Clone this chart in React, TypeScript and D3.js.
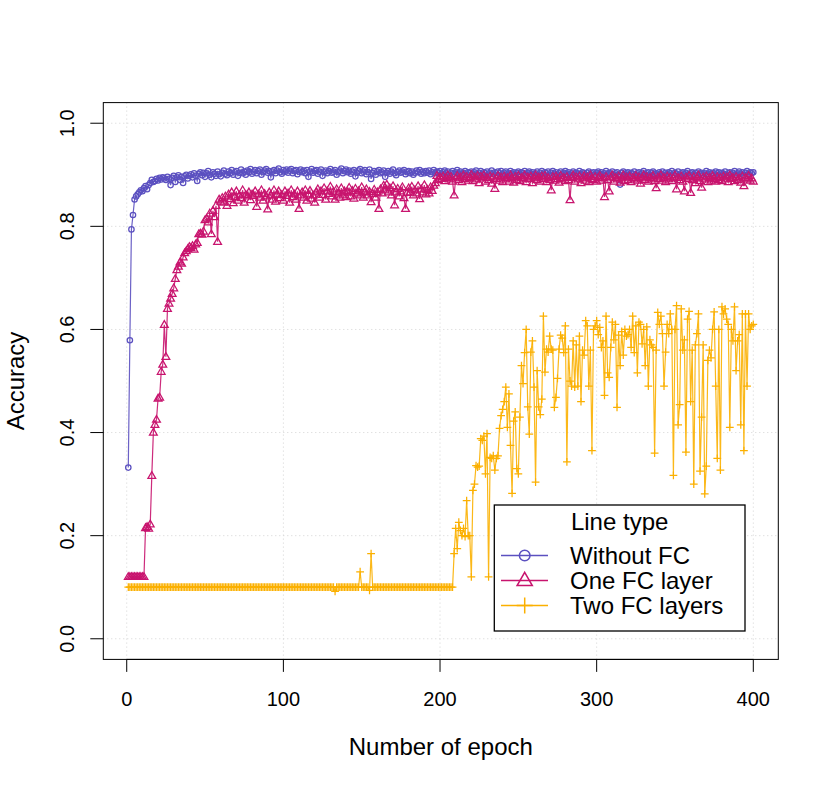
import * as d3 from 'd3';

// accuracy per epoch, in thousandths
const withoutFC = [
  332, 579, 794, 822, 852, 858, 862, 866, 870, 868, 874, 878, 872, 880, 884, 890, 886, 888, 892, 889,
  894, 891, 895, 893, 890, 896, 892, 880, 894, 898, 886, 895, 899, 890, 896, 884, 897, 900, 893, 898,
  901, 895, 903, 898, 888, 902, 905, 899, 904, 896, 903, 907, 900, 895, 905, 902, 898, 906, 901, 897,
  904, 908, 902, 899, 906, 903, 909, 900, 905, 907, 898, 904, 910, 903, 906, 900, 908, 905, 911, 902,
  906, 909, 903, 907, 910, 900, 905, 908, 911, 904, 907, 895, 906, 909, 903, 908, 912, 905, 902, 909,
  906, 910, 904, 908, 911, 903, 907, 909, 901, 906, 910, 905, 908, 903, 909, 896, 906, 911, 904, 907,
  909, 902, 906, 910, 898, 905, 908, 903, 907, 911, 904, 906, 909, 900, 905, 908, 912, 903, 907, 910,
  905, 908, 902, 906, 909, 897, 904, 908, 911, 903, 906, 909, 901, 905, 910, 892, 904, 907, 900, 906,
  909, 903, 905, 908, 896, 904, 907, 902, 906, 910, 903, 899, 905, 908, 904, 906, 909, 901, 905, 907,
  903, 906, 900, 904, 908, 905, 909, 902, 906, 903, 907, 904, 908, 901, 905, 909, 903, 906, 904, 907,
  902, 905, 908, 903, 906, 900, 904, 907, 902, 905, 909, 903, 906, 901, 904, 907, 900, 905, 903, 906,
  902, 905, 908, 899, 904, 907, 901, 905, 903, 906, 900, 904, 908, 902, 905, 899, 906, 903, 907, 901,
  904, 906, 900, 903, 907, 902, 905, 899, 904, 906, 901, 905, 903, 907, 900, 904, 906, 902, 905, 898,
  903, 906, 900, 904, 907, 901, 905, 903, 906, 899, 904, 907, 902, 905, 900, 903, 906, 901, 904, 907,
  902, 905, 899, 903, 906, 900, 904, 902, 907, 901, 905, 903, 898, 904, 906, 901, 903, 905, 900, 904,
  906, 902, 905, 900, 903, 907, 901, 904, 902, 906, 899, 903, 905, 900, 881, 904, 906, 901, 903, 905,
  900, 904, 902, 906, 899, 903, 905, 901, 904, 907, 900, 903, 905, 899, 904, 906, 901, 903, 900, 905,
  902, 906, 899, 904, 901, 905, 903, 907, 900, 904, 902, 906, 899, 903, 905, 901, 904, 907, 900, 903,
  905, 901, 904, 899, 906, 902, 904, 900, 903, 907, 901, 905, 902, 904, 899, 906, 903, 905, 900, 904,
  902, 906, 899, 903, 905, 901, 904, 907, 900, 903, 906, 902, 905, 899, 904, 907, 901, 905, 903, 905,
];

const oneFC = [
  120, 120, 120, 120, 120, 120, 120, 120, 120, 120, 120, 215, 217, 214, 222, 316, 400, 415, 425, 466,
  468, 518, 532, 609, 547, 640, 650, 660, 669, 680, 698, 715, 722, 730, 728, 740, 748, 752, 756, 760,
  758, 762, 755, 765, 768, 785, 786, 784, 790, 812, 815, 808, 825, 785, 830, 818, 840, 770, 852, 848,
  855, 846, 858, 840, 862, 853, 866, 845, 857, 868, 850, 860, 855, 870, 846, 861, 858, 866, 851, 862,
  859, 868, 838, 862, 856, 870, 850, 863, 858, 833, 866, 860, 852, 870, 848, 862, 868, 855, 861, 850,
  868, 859, 864, 846, 870, 857, 862, 852, 868, 834, 860, 866, 856, 870, 850, 862, 869, 854, 860, 846,
  866, 872, 856, 868, 861, 874, 852, 868, 863, 877, 858, 867, 852, 872, 864, 856, 874, 860, 868, 857,
  866, 875, 858, 869, 854, 873, 864, 868, 860, 876, 856, 866, 872, 860, 867, 847, 863, 871, 856, 866,
  834, 872, 864, 879, 870, 881, 866, 874, 860, 878, 841, 866, 873, 858, 868, 876, 855, 834, 865, 874,
  866, 877, 860, 870, 864, 878, 853, 872, 866, 880, 862, 871, 864, 876, 869, 879, 884, 898, 890, 895,
  892, 897, 888, 894, 899, 891, 896, 887, 860, 893, 898, 890, 895, 886, 899, 892, 896, 889, 894, 900,
  888, 895, 891, 898, 884, 896, 893, 899, 887, 894, 890, 897, 883, 895, 873, 892, 898, 889, 895, 886,
  897, 891, 894, 887, 899, 893, 885, 896, 890, 898, 888, 894, 891, 899, 886, 895, 892, 897, 884, 893,
  899, 890, 895, 887, 897, 892, 898, 886, 894, 890, 870, 896, 889, 897, 892, 885, 898, 891, 894, 888,
  896, 890, 851, 894, 899, 887, 895, 891, 897, 884, 893, 898, 889, 895, 886, 899, 892, 890, 896, 887,
  894, 898, 889, 893, 857, 896, 890, 868, 895, 899, 887, 894, 891, 897, 885, 893, 899, 888, 895, 890,
  897, 886, 894, 891, 898, 889, 895, 883, 893, 899, 890, 896, 887, 894, 891, 898, 888, 874, 895, 892,
  899, 889, 894, 886, 897, 891, 895, 888, 893, 899, 872, 894, 890, 897, 887, 868, 895, 892, 898, 865,
  890, 896, 884, 893, 899, 888, 875, 895, 891, 897, 886, 894, 889, 898, 892, 887, 896, 890, 894, 888,
  897, 891, 895, 886, 899, 892, 894, 888, 896, 890, 893, 885, 897, 878, 894, 891, 898, 889, 893, 887,
];

const twoFC = [
  100, 100, 100, 100, 100, 100, 100, 100, 100, 100, 100, 100, 100, 100, 100, 100, 100, 100, 100, 100,
  100, 100, 100, 100, 100, 100, 100, 100, 100, 100, 100, 100, 100, 100, 100, 100, 100, 100, 100, 100,
  100, 100, 100, 100, 100, 100, 100, 100, 100, 100, 100, 100, 100, 100, 100, 100, 100, 100, 100, 100,
  100, 100, 100, 100, 100, 100, 100, 100, 100, 100, 100, 100, 100, 100, 100, 100, 100, 100, 100, 100,
  100, 100, 100, 100, 100, 100, 100, 100, 100, 100, 100, 100, 100, 100, 100, 100, 100, 100, 100, 100,
  100, 100, 100, 100, 100, 100, 100, 100, 100, 100, 100, 100, 100, 100, 100, 100, 100, 100, 100, 100,
  100, 100, 100, 100, 100, 100, 100, 100, 100, 100, 100, 100, 92, 100, 100, 100, 100, 100, 100, 100,
  100, 100, 100, 100, 100, 100, 100, 100, 130, 100, 100, 100, 100, 100, 94, 165, 100, 100, 100, 100,
  100, 100, 100, 100, 100, 100, 100, 100, 100, 100, 100, 100, 100, 100, 100, 100, 100, 100, 100, 100,
  100, 100, 100, 100, 100, 100, 100, 100, 100, 100, 100, 100, 100, 100, 100, 100, 100, 100, 100, 100,
  100, 100, 100, 100, 100, 100, 100, 100, 165, 214, 175, 226, 210, 200, 214, 198, 268, 200, 200, 120,
  288, 300, 336, 333, 335, 388, 385, 393, 320, 398, 120, 352, 350, 355, 327, 350, 355, 408, 433, 445,
  460, 488, 410, 475, 375, 282, 422, 440, 330, 320, 430, 530, 495, 555, 600, 450, 397, 556, 578, 488,
  304, 520, 450, 435, 465, 626, 517, 562, 556, 587, 562, 560, 449, 468, 505, 562, 589, 583, 555, 607,
  343, 562, 500, 490, 578, 488, 570, 490, 587, 460, 560, 550, 617, 607, 490, 560, 365, 600, 607, 617,
  590, 604, 565, 578, 472, 626, 516, 507, 565, 614, 580, 610, 449, 589, 530, 596, 550, 600, 587, 590,
  600, 565, 626, 555, 607, 516, 614, 610, 572, 600, 530, 605, 490, 580, 570, 565, 360, 560, 633, 610,
  626, 592, 490, 556, 610, 592, 630, 600, 317, 600, 646, 415, 454, 640, 560, 580, 362, 620, 635, 460,
  560, 300, 570, 592, 630, 325, 430, 570, 281, 335, 540, 560, 545, 600, 634, 490, 350, 600, 327, 644,
  630, 640, 620, 610, 410, 600, 578, 644, 520, 578, 590, 415, 630, 365, 630, 490, 630, 600, 607, 610,
];

const seriesNames = ['Without FC', 'One FC layer', 'Two FC layers'];
const seriesColors = ['#5b50c0', '#c8146e', '#fbb000'];
const xTicks = [0, 100, 200, 300, 400];
const yTicks = [0, 0.2, 0.4, 0.6, 0.8, 1.0];

const W = 830;
const H = 788;
const FONT = '"Liberation Sans", Arial, Helvetica, sans-serif';

// R-style 4% axis extension
const x = d3.scaleLinear().domain([1 - 399 * 0.04, 400 + 399 * 0.04]).range([103.3, 778.3]);
const y = d3.scaleLinear().domain([-0.04, 1.04]).range([659.4, 102.6]);

type Pt = [number, number];

function toPoints(vals: number[]): Pt[] {
  return vals.map((v, i) => [i + 1, v / 1000]);
}

function marker(kind: number, cx: number, cy: number, s: number, color: string, key: string | number, sw = 1) {
  if (kind === 0) {
    return <circle key={key} cx={cx} cy={cy} r={s} fill="none" stroke={color} strokeWidth={sw} />;
  }
  if (kind === 1) {
    const h = s * 1.732;
    const p = `M${cx},${cy - h * 0.62}L${cx + s},${cy + h * 0.38}L${cx - s},${cy + h * 0.38}Z`;
    return <path key={key} d={p} fill="none" stroke={color} strokeWidth={sw} />;
  }
  return (
    <path key={key} d={`M${cx - s},${cy}H${cx + s}M${cx},${cy - s}V${cy + s}`} fill="none" stroke={color} strokeWidth={sw} />
  );
}

export default function App() {
  const series = [withoutFC, oneFC, twoFC].map(toPoints);
  const line = d3
    .line<Pt>()
    .x((d) => x(d[0]))
    .y((d) => y(d[1]));
  const sizes = [2.7, 3.9, 3.9];

  const left = x.range()[0];
  const right = x.range()[1];
  const bottom = y.range()[0];
  const top = y.range()[1];

  const lx = 494.3;
  const ly = 505;
  const lw = 250.7;
  const lh = 126;
  const rows = [564, 589, 614];

  return (
    <svg
      width={W}
      height={H}
      viewBox={`0 0 ${W} ${H}`}
      style={{ position: 'absolute', left: 0, top: 0, background: '#fff' }}
      fontFamily={FONT}
    >
      <rect width={W} height={H} fill="#fff" />

      {/* grid */}
      <g stroke="#d3d3d3" strokeWidth={1} strokeDasharray="1,3">
        {xTicks.map((t) => (
          <line key={`gx${t}`} x1={x(t)} x2={x(t)} y1={top} y2={bottom} />
        ))}
        {yTicks.map((t) => (
          <line key={`gy${t}`} x1={left} x2={right} y1={y(t)} y2={y(t)} />
        ))}
      </g>

      {/* series */}
      {series.map((pts, si) => (
        <g key={si}>
          <path d={line(pts) ?? ''} fill="none" stroke={seriesColors[si]} strokeWidth={1.2} strokeOpacity={0.9} />
          {pts.map((d, i) => marker(si, x(d[0]), y(d[1]), sizes[si], seriesColors[si], i, 1.25))}
        </g>
      ))}

      {/* frame */}
      <rect x={left} y={top} width={right - left} height={bottom - top} fill="none" stroke="#000" strokeWidth={1} />

      {/* x axis */}
      <g stroke="#000" strokeWidth={1}>
        <line x1={x(0)} x2={x(400)} y1={bottom} y2={bottom} />
        {xTicks.map((t) => (
          <line key={`tx${t}`} x1={x(t)} x2={x(t)} y1={bottom} y2={bottom + 12.5} />
        ))}
      </g>
      {xTicks.map((t) => (
        <text key={`lx${t}`} x={x(t)} y={706} textAnchor="middle" fontSize={20} fill="#000">
          {t}
        </text>
      ))}

      {/* y axis */}
      <g stroke="#000" strokeWidth={1}>
        {yTicks.map((t) => (
          <line key={`ty${t}`} x1={left} x2={left - 13} y1={y(t)} y2={y(t)} />
        ))}
      </g>
      {yTicks.map((t) => (
        <text
          key={`ly${t}`}
          transform={`translate(74,${y(t)}) rotate(-90)`}
          textAnchor="middle"
          fontSize={20}
          fill="#000"
        >
          {t.toFixed(1)}
        </text>
      ))}

      {/* axis titles */}
      <text x={(left + right) / 2} y={755} textAnchor="middle" fontSize={24} fill="#000">
        Number of epoch
      </text>
      <text transform={`translate(24,${(top + bottom) / 2}) rotate(-90)`} textAnchor="middle" fontSize={24} fill="#000">
        Accuracy
      </text>

      {/* legend */}
      <rect x={lx} y={ly} width={lw} height={lh} fill="#fff" stroke="#000" strokeWidth={1.3} />
      <text x={lx + lw / 2} y={530} textAnchor="middle" fontSize={24} fill="#000">
        Line type
      </text>
      {seriesNames.map((name, i) => {
        const cy = rows[i] - 8.5;
        return (
          <g key={name}>
            <line x1={501} x2={548} y1={cy} y2={cy} stroke={seriesColors[i]} strokeWidth={1.5} />
            {marker(i, 524.7, cy, [5.3, 7.6, 8][i], seriesColors[i], `lm${i}`, 1.5)}
            <text x={570} y={rows[i]} fontSize={24} fill="#000">
              {name}
            </text>
          </g>
        );
      })}
    </svg>
  );
}
